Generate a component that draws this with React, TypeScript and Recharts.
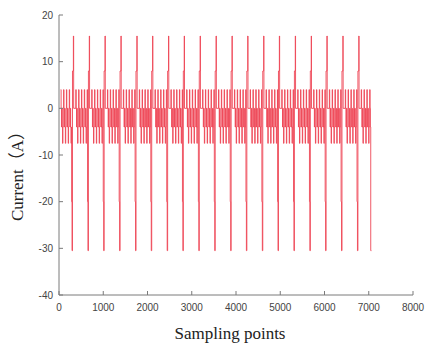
import React from "react";
import { LineChart, Line, XAxis, YAxis } from "recharts";

// ---- data ----
const X_TICKS = [0, 1000, 2000, 3000, 4000, 5000, 6000, 7000, 8000];
const Y_TICKS = [-40, -30, -20, -10, 0, 10, 20];

// sample index where each current pulse begins (negative drop)
const spikeStarts = [285, 645, 1000, 1360, 1720, 2075, 2435, 2790, 3150, 3510, 3870, 4225, 4585, 4940, 5300, 5660, 6015, 6375, 6735];
// shape of a pulse: offset (samples after start) and current level (A)
const spikeOffsets = [0, 10, 20, 40, 46];
const spikeLevels = [-20, -30.5, 8, 15.5, 0];
// samples after pulse start where the ripple band resumes
const bandDelay = 95;
// ripple band levels (A), each held for bandStep samples
const bandMotif = [4, 0, -4, 0, -4, -7.5, -4, 0];
const bandStep = 8;
const signalStart = 40;
const finalDropAt = 7045;
const finalLevel = -30.5;
const signalEnd = 7060;

type Pt = { t: number; v: number };
const buildSeries = (): Pt[] => {
  const pts: Pt[] = [];
  const addBand = (from: number, to: number) => {
    let i = 0;
    for (let t = from; t < to; t += bandStep) {
      pts.push({ t, v: bandMotif[i % bandMotif.length] });
      i++;
    }
  };
  addBand(signalStart, spikeStarts[0]);
  spikeStarts.forEach((s, k) => {
    spikeOffsets.forEach((o, j) => pts.push({ t: s + o, v: spikeLevels[j] }));
    const next = k + 1 < spikeStarts.length ? spikeStarts[k + 1] : finalDropAt;
    addBand(s + bandDelay, next);
  });
  pts.push({ t: finalDropAt, v: finalLevel });
  pts.push({ t: signalEnd, v: finalLevel });
  return pts;
};
const data = buildSeries();

const AXIS = "#7a7a7a";
const TICK_TXT = "#444";
const TICK_FONT = "'Liberation Sans', Arial, sans-serif";
const LABEL_FONT = "'Liberation Serif', 'Times New Roman', 'Noto Sans CJK SC', serif";

const BottomTick = (p: any) => (
  <g>
    <line x1={p.x} x2={p.x} y1={p.y} y2={p.y - 4} stroke={AXIS} />
    <text x={p.x} y={p.y + 16} textAnchor="middle" fontSize={10} fontFamily={TICK_FONT} fill={TICK_TXT}>
      {p.payload.value}
    </text>
  </g>
);
const TopTick = (p: any) => <line x1={p.x} x2={p.x} y1={p.y} y2={p.y + 4} stroke={AXIS} />;
const LeftTick = (p: any) => (
  <g>
    <line x1={p.x} x2={p.x + 4} y1={p.y} y2={p.y} stroke={AXIS} />
    <text x={p.x - 6} y={p.y + 3.5} textAnchor="end" fontSize={10} fontFamily={TICK_FONT} fill={TICK_TXT}>
      {p.payload.value}
    </text>
  </g>
);
const RightTick = (p: any) => <line x1={p.x} x2={p.x - 4} y1={p.y} y2={p.y} stroke={AXIS} />;

export default function App() {
  return (
    <div style={{ position: "absolute", left: 0, top: 0, background: "#fff" }}>
      <LineChart width={425} height={343} data={data} margin={{ top: 15, right: 12, left: 0, bottom: 0 }}>
        <XAxis
          dataKey="t"
          type="number"
          domain={[0, 8000]}
          ticks={X_TICKS}
          allowDataOverflow
          height={48}
          tickSize={0}
          tickMargin={0}
          tickLine={false}
          tick={BottomTick}
          stroke={AXIS}
          interval={0}
          label={{
            content: (props: any) => {
              const vb = props.viewBox;
              return (
                <text x={vb.x + vb.width / 2 - 6} y={vb.y + 44} textAnchor="middle" fontSize={17} fontFamily={LABEL_FONT} fill="#222">
                  Sampling points
                </text>
              );
            },
          }}
        />
        <XAxis
          xAxisId="top"
          orientation="top"
          type="number"
          domain={[0, 8000]}
          ticks={X_TICKS}
          allowDataOverflow
          height={0}
          tickSize={0}
          tickMargin={0}
          tickLine={false}
          tick={TopTick}
          stroke={AXIS}
          interval={0}
        />
        <YAxis
          type="number"
          domain={[-40, 20]}
          ticks={Y_TICKS}
          allowDataOverflow
          width={59}
          tickSize={0}
          tickMargin={0}
          tickLine={false}
          tick={LeftTick}
          stroke={AXIS}
          interval={0}
          label={{
            content: (props: any) => {
              const vb = props.viewBox;
              const cx = 17;
              const cy = vb.y + vb.height / 2 + 17;
              return (
                <text
                  x={cx}
                  y={cy}
                  transform={`rotate(-90 ${cx} ${cy})`}
                  textAnchor="middle"
                  dominantBaseline="central"
                  fontSize={17}
                  fontFamily={LABEL_FONT}
                  fill="#222"
                >
                  Current（A）
                </text>
              );
            },
          }}
        />
        <YAxis
          yAxisId="right"
          orientation="right"
          type="number"
          domain={[-40, 20]}
          ticks={Y_TICKS}
          allowDataOverflow
          width={0}
          tickSize={0}
          tickMargin={0}
          tickLine={false}
          tick={RightTick}
          stroke={AXIS}
          interval={0}
        />
        <Line
          type="stepAfter"
          dataKey="v"
          stroke="#ee4656"
          strokeWidth={0.9}
          dot={false}
          isAnimationActive={false}
        />
      </LineChart>
    </div>
  );
}
